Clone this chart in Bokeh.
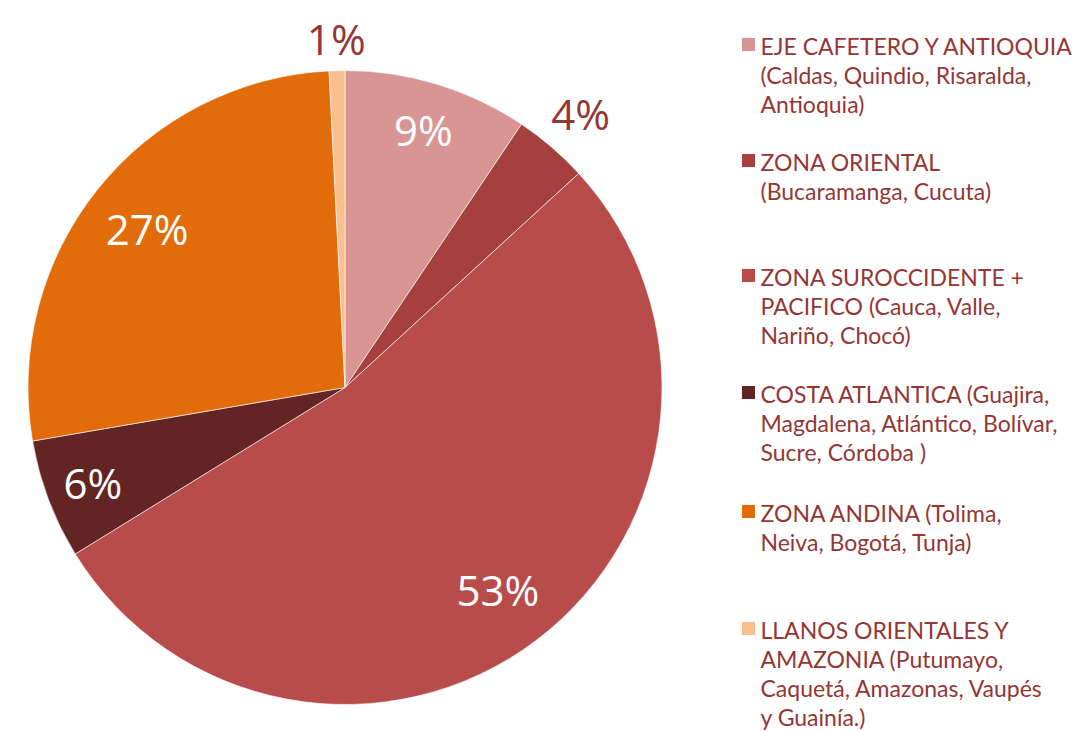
import numpy as np
from bokeh.plotting import figure
from bokeh.models import Range1d, ColumnDataSource
from bokeh.core.properties import value
from bokeh.embed import file_html
from bokeh.resources import INLINE

# ---- data ----
regions = [
    "EJE CAFETERO Y ANTIOQUIA\n(Caldas, Quindio, Risaralda,\nAntioquia)",
    "ZONA ORIENTAL\n(Bucaramanga, Cucuta)",
    "ZONA SUROCCIDENTE +\nPACIFICO (Cauca, Valle,\nNariño, Chocó)",
    "COSTA ATLANTICA (Guajira,\nMagdalena, Atlántico, Bolívar,\nSucre, Córdoba )",
    "ZONA ANDINA (Tolima,\nNeiva, Bogotá, Tunja)",
    "LLANOS ORIENTALES Y\nAMAZONIA (Putumayo,\nCaquetá, Amazonas, Vaupés\ny Guainía.)",
]
shares = [9.4, 3.8, 53.0, 6.1, 26.9, 0.8]

# ---- style ----
colors = ["#D99594", "#A5403E", "#B84C4A", "#632523", "#E36C0A", "#FABF8F"]
label_colors = ["white", "#943634", "white", "white", "white", "#943634"]
label_radius = [0.85, 1.14, 0.80, 0.85, 0.80, 1.10]
text_color = "#943634"

W, H = 1082, 731
cx, cy, R = 344.5, 344.0, 317.0

p = figure(width=W, height=H, output_backend="svg", toolbar_location=None,
           x_range=Range1d(0, W), y_range=Range1d(0, H),
           min_border=0, outline_line_color=None)
p.axis.visible = False
p.grid.visible = False
p.background_fill_color = "white"
p.border_fill_color = "white"

fr = np.array(shares) / sum(shares)
cum = np.concatenate([[0], np.cumsum(fr)])
start = np.pi / 2 - 2 * np.pi * cum[:-1]
end = np.pi / 2 - 2 * np.pi * cum[1:]
mid = (start + end) / 2

src = ColumnDataSource(dict(start=start, end=end, color=colors))
p.wedge(x=cx, y=cy, radius=R, start_angle="start", end_angle="end",
        direction="clock", fill_color="color", line_color="white",
        line_width=0.6, source=src)

lr = np.array(label_radius) * R
lsrc = ColumnDataSource(dict(
    x=cx + lr * np.cos(mid), y=cy + lr * np.sin(mid),
    t=[f"{round(s)}%" for s in shares], c=label_colors))
p.text(x="x", y="y", text="t", text_color="c", source=lsrc,
       text_font=value("Open Sans"), text_font_size="42px",
       text_align="center", text_baseline="middle")

# ---- legend ----
entry_top = [686, 570, 455, 338, 219, 102]  # y of first line (data coords)
line_h = 29
lx, ly, lt = [], [], []
sx, sy = [], []
for i, lab in enumerate(regions):
    lines = lab.split("\n")
    for j, ln in enumerate(lines):
        lx.append(760)
        ly.append(entry_top[i] - j * line_h)
        lt.append(ln)
    sx.append(748)
    sy.append(entry_top[i] + 1)

p.scatter(x=sx, y=sy, marker="square", size=13, fill_color=colors,
          line_color=None)
p.text(x=lx, y=ly, text=lt, text_color=text_color,
       text_font=value("Lato"), text_font_size="23px",
       text_align="left", text_baseline="middle")

open("out.html", "w").write(file_html(p, INLINE))
